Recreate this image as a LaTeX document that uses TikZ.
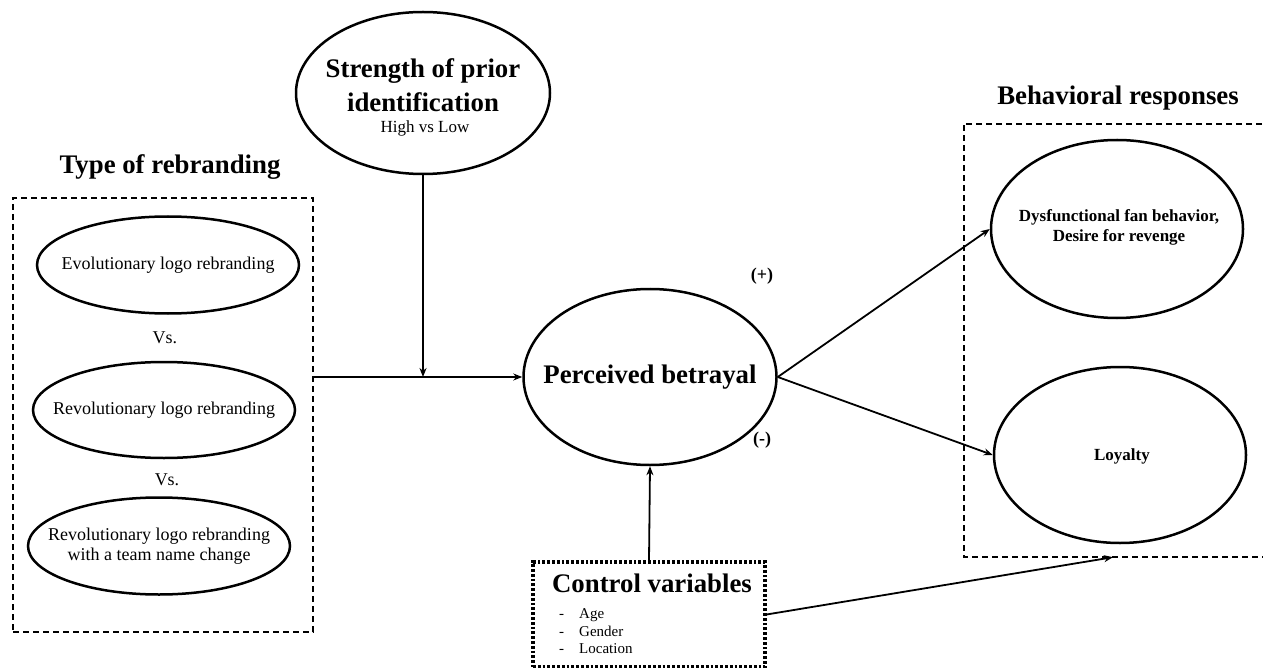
\documentclass[tikz,border=0pt]{standalone}
\usepackage{fontspec}
\setmainfont{Liberation Serif}
\usetikzlibrary{shapes.geometric,arrows.meta}
\begin{document}
\begin{tikzpicture}[x=1pt,y=-1pt,
  ell/.style={draw,ellipse,line width=2.5pt,inner sep=0pt},
  conn/.style={line width=1.8pt,-{Stealth[length=9pt,width=7pt]}},
  dashline/.style={dash pattern=on 6pt off 4pt,line width=1.7pt},
  dotbox/.style={draw,dash pattern=on 2.8pt off 2pt,line width=3.2pt,inner sep=0pt},
  big/.style={font=\bfseries\fontsize{26.8}{31}\selectfont,inner sep=0pt},
  small/.style={font=\fontsize{18}{20}\selectfont,inner sep=0pt,align=center},
  mid/.style={font=\bfseries\fontsize{17}{20}\selectfont,inner sep=0pt,align=center},
  item/.style={font=\fontsize{15}{17}\selectfont,inner sep=0pt,anchor=base west}]
\useasboundingbox (0,0) rectangle (1263,668);

% left group
\node[draw,dashline,minimum width=300pt,minimum height=434pt,inner sep=0pt] (lbox) at (163,415) {};
\node[big] (tl) at (170,167) {Type of rebranding};
\node[ell,minimum width=262pt,minimum height=97pt] (e1) at (168,265) {};
\node[small] (t1) at (e1) {Evolutionary logo rebranding};
\node[small] (vs1) at (165,338) {Vs.};
\node[ell,minimum width=262pt,minimum height=96pt] (e2) at (164,410) {};
\node[small] (t2) at (e2) {Revolutionary logo rebranding};
\node[small] (vs2) at (167,480) {Vs.};
\node[ell,minimum width=262pt,minimum height=97pt] (e3) at (159,546) {};
\node[small] (t3) at (e3) {Revolutionary logo rebranding\\with a team name change};

% moderator
\node[ell,minimum width=254pt,minimum height=162pt] (str) at (423,93) {};
\node[big] (st1) at (423,71) {Strength of prior};
\node[big] (st2) at (423,102) {identification};
\node[font=\fontsize{17}{20}\selectfont,inner sep=0pt] (st3) at (425,128) {High vs Low};

% mediator
\node[ell,minimum width=253pt,minimum height=176pt] (pb) at (650,377) {};
\node[big] (pbt) at (pb) {Perceived betrayal};

% right group
\node[minimum width=298pt,minimum height=433pt,inner sep=0pt] (rbox) at (1113,340.5) {};
\draw[dashline] (rbox.north east) -- (rbox.north west) -- (rbox.south west) -- (rbox.south east);
\node[big] (tr) at (1118,98) {Behavioral responses};
\node[ell,minimum width=252pt,minimum height=178pt] (dys) at (1117,229) {};
\node[mid] (dyst) at (1119,227) {Dysfunctional fan behavior,\\Desire for revenge};
\node[ell,minimum width=252pt,minimum height=176pt] (loy) at (1120,455) {};
\node[mid] (loyt) at (1122,456) {Loyalty};

% control variables
\node[dotbox,minimum width=232pt,minimum height=105pt] (cv) at (649,614.5) {};
\node[big] (cvt) at (652,583) {Control variables};
\node[item] (d1) at (559,618) {-};
\node[item] (i1) at (579,618) {Age};
\node[item] (d2) at (559,636) {-};
\node[item] (i2) at (579,636) {Gender};
\node[item] (d3) at (559,653) {-};
\node[item] (i3) at (579,653) {Location};

% labels
\node[font=\bfseries\fontsize{18}{20}\selectfont,inner sep=0pt] (plus) at (762,276) {(+)};
\node[font=\bfseries\fontsize{18}{20}\selectfont,inner sep=0pt] (minus) at (762,440) {(-)};

% connectors
\draw[conn] (lbox.east |- pb.west) -- (pb.west);
\draw[conn] (str.south) -- (str.south |- pb.west);
\draw[conn] (cv.north) -- (pb.south);
\draw[conn] (pb.east) -- (dys.west);
\draw[conn] (pb.east) -- (loy.west);
\draw[conn] (cv.east) -- (rbox.south);
\end{tikzpicture}
\end{document}
